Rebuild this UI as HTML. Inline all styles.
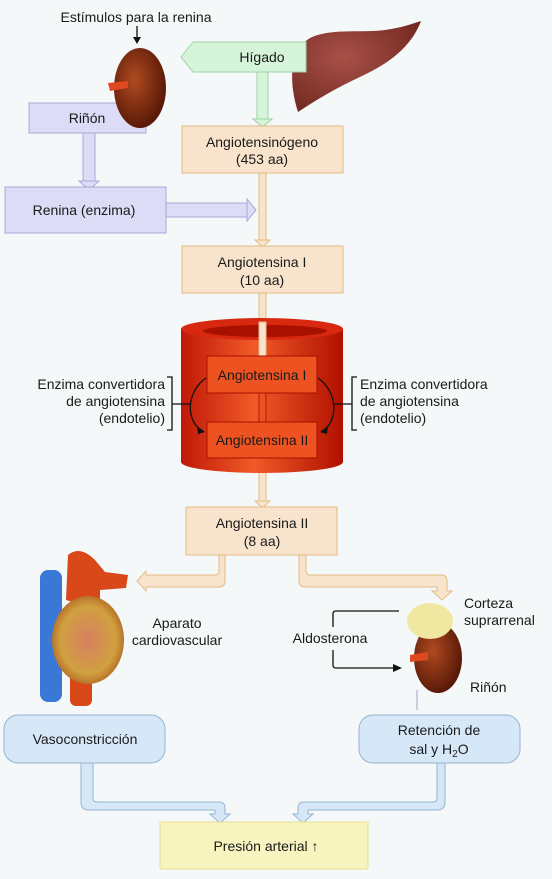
<!DOCTYPE html>
<html><head><meta charset="utf-8"><style>
html,body{margin:0;padding:0;background:#f4f8f8;}
svg{display:block;font-family:"Liberation Sans",sans-serif;}
text{fill:#1a1a1a;font-size:14px;}
</style></head><body>
<svg width="552" height="879" viewBox="0 0 552 879">
<defs>
<radialGradient id="kid" cx="40%" cy="40%" r="60%"><stop offset="0" stop-color="#b04a20"/><stop offset="1" stop-color="#5a1a08"/></radialGradient>
<radialGradient id="liv" cx="40%" cy="40%" r="70%"><stop offset="0" stop-color="#a85048"/><stop offset="1" stop-color="#702820"/></radialGradient>
<linearGradient id="cyl" x1="0" x2="1"><stop offset="0" stop-color="#c01808"/><stop offset="0.45" stop-color="#f05a28"/><stop offset="1" stop-color="#b01000"/></linearGradient>
<radialGradient id="heart" cx="50%" cy="50%" r="55%"><stop offset="0" stop-color="#d88060"/><stop offset="0.7" stop-color="#d0a040"/><stop offset="1" stop-color="#b06020"/></radialGradient>
</defs>

<text x="136" y="22" text-anchor="middle">Estímulos para la renina</text>
<g><line x1="137" y1="26" x2="137" y2="38" stroke="#111" stroke-width="1.3"/><polygon points="133,37 141,37 137,44" fill="#111"/></g>

<!-- lavender arrows -->
<g>
<rect x="83" y="132" width="12" height="50" fill="#dcdcf6" stroke="#a8a8d8"/>
<polygon points="79,181 99,181 89,190" fill="#dcdcf6" stroke="#a8a8d8"/>
</g>
<g>
<rect x="166" y="203" width="82" height="14" fill="#dcdcf6" stroke="#a8a8d8"/>
<polygon points="247,199 247,221 256,210" fill="#dcdcf6" stroke="#a8a8d8"/>
</g>
<rect x="29" y="103" width="117" height="30" fill="#dcdcf6" stroke="#a8a8d8"/>
<ellipse cx="140" cy="88" rx="26" ry="40" fill="url(#kid)"/>
<path d="M108,83 L128,81 L128,88 L110,91 Z" fill="#e04820"/>
<text x="87" y="123" text-anchor="middle">Riñón</text>
<rect x="5" y="187" width="161" height="46" fill="#dcdcf6" stroke="#a8a8d8"/>
<text x="84" y="215" text-anchor="middle">Renina (enzima)</text>

<!-- liver -->
<path d="M298,112 C288,80 290,50 310,38 C330,28 360,33 385,30 C400,28 412,24 421,21 C412,45 392,62 362,76 C336,88 316,100 298,112 Z" fill="url(#liv)"/>
<g>
<rect x="257" y="72" width="11" height="48" fill="#d6f4da" stroke="#9cd4a4"/>
<polygon points="253,119 272,119 262.5,127" fill="#d6f4da" stroke="#9cd4a4"/>
</g>
<polygon points="181,57 193,42 306,42 306,72 193,72" fill="#d6f4da" stroke="#9cd4a4"/>
<text x="262" y="62" text-anchor="middle">Hígado</text>

<g fill="#f8e4cc" stroke="#e4bc84">
<rect x="259" y="173" width="7" height="68"/><polygon points="255,240 270,240 262.5,247"/>
<rect x="259" y="293" width="7" height="62"/>
<rect x="259" y="458" width="7" height="44"/><polygon points="255,501 270,501 262.5,508"/>
</g>
<rect x="182" y="126" width="161" height="47" fill="#f8e4cc" stroke="#e4bc84"/>
<text x="262" y="147" text-anchor="middle">Angiotensinógeno</text>
<text x="262" y="164" text-anchor="middle">(453 aa)</text>
<rect x="182" y="246" width="161" height="47" fill="#f8e4cc" stroke="#e4bc84"/>
<text x="262" y="267" text-anchor="middle">Angiotensina I</text>
<text x="262" y="285" text-anchor="middle">(10 aa)</text>

<!-- cylinder -->
<g>
<path d="M181,329 L181,462 A81,11 0 0 0 343,462 L343,329 Z" fill="url(#cyl)"/>
<ellipse cx="262" cy="329" rx="81" ry="11" fill="#d82810"/>
<ellipse cx="265" cy="331" rx="62" ry="6" fill="#a81000"/>
<rect x="259" y="322" width="7" height="34" fill="#f8e4cc" stroke="#e4bc84"/>
<rect x="259" y="393" width="7" height="29" fill="none" stroke="#a81000" stroke-width="0.8"/>
</g>
<rect x="207" y="356" width="110" height="37" fill="#ee5220" stroke="#a81000"/>
<text x="262" y="380" text-anchor="middle">Angiotensina I</text>
<rect x="207" y="422" width="110" height="36" fill="#ee5220" stroke="#a81000"/>
<text x="262" y="445" text-anchor="middle">Angiotensina II</text>
<g fill="none" stroke="#111" stroke-width="1.3">
<path d="M206,378 C186,392 186,420 201,430"/><path d="M318,378 C338,392 338,420 324,430"/>
<path d="M167,377 L172,377 L172,430 L167,430 M172,404 L191,404"/>
<path d="M357,377 L352,377 L352,430 L357,430 M352,404 L333,404"/>
</g>
<polygon points="197,426 205,432 198,434" fill="#111"/><polygon points="328,426 320,432 327,434" fill="#111"/>
<g>
<text x="165" y="389" text-anchor="end">Enzima convertidora</text>
<text x="165" y="406" text-anchor="end">de angiotensina</text>
<text x="165" y="423" text-anchor="end">(endotelio)</text>
</g>
<g>
<text x="360" y="389">Enzima convertidora</text>
<text x="360" y="406">de angiotensina</text>
<text x="360" y="423">(endotelio)</text>
</g>

<!-- angiotensin II branches -->
<g fill="#f8e4cc" stroke="#e4bc84">
<path d="M219,555 L219,571 Q219,575 215,575 L146,575 L146,571 L137,581 L146,591 L146,587 L219,587 Q225,587 225,581 L225,555 Z"/>
<path d="M299,555 L299,581 Q299,587 305,587 L437,587 L437,591 L432,591 L442,600 L452,591 L447,591 L447,581 Q447,575 441,575 L310,575 Q306,575 306,571 L306,555 Z"/>
</g>
<rect x="186" y="507" width="151" height="48" fill="#f8e4cc" stroke="#e4bc84"/>
<text x="262" y="528" text-anchor="middle">Angiotensina II</text>
<text x="262" y="546" text-anchor="middle">(8 aa)</text>

<!-- heart -->
<g>
<rect x="40" y="570" width="22" height="132" rx="8" fill="#3a78d8"/>
<rect x="70" y="660" width="22" height="46" rx="6" fill="#d84818"/>
<path d="M66,600 L68,555 Q80,545 95,560 L105,572 L128,575 L126,588 L100,590 L100,610 Z" fill="#d84818"/>
<ellipse cx="88" cy="640" rx="36" ry="44" fill="url(#heart)"/>
</g>
<text x="177" y="628" text-anchor="middle">Aparato</text>
<text x="177" y="645" text-anchor="middle">cardiovascular</text>

<!-- adrenal/kidney -->
<g>
<line x1="417" y1="690" x2="417" y2="710" stroke="#c8d0e0" stroke-width="2"/>
<ellipse cx="438" cy="658" rx="24" ry="35" fill="url(#kid)"/>
<ellipse cx="430" cy="621" rx="23" ry="18" fill="#f0e8a0"/>
<path d="M410,655 L428,652 L428,660 L410,662 Z" fill="#e04820"/>
</g>
<g fill="none" stroke="#111" stroke-width="1.3">
<path d="M399,611 L336,611 Q333,611 333,614 L333,627"/>
<path d="M333,650 L333,665 Q333,668 336,668 L394,668"/>
</g>
<polygon points="393,664 402,668 393,672" fill="#111"/>
<text x="330" y="643" text-anchor="middle">Aldosterona</text>
<text x="464" y="608">Corteza</text>
<text x="464" y="625">suprarrenal</text>
<text x="470" y="692">Riñón</text>

<!-- blue arrows -->
<g fill="#d6e8f8" stroke="#94b4d4">
<path d="M81,763 L81,802 Q81,810 89,810 L215,810 L215,814 L210,814 L220,823 L230,814 L225,814 L225,808 Q225,802 219,802 L97,802 Q93,802 93,798 L93,763 Z"/>
<path d="M437,763 L437,798 Q437,802 433,802 L304,802 Q298,802 298,808 L298,814 L293,814 L303,823 L313,814 L308,814 L308,810 L437,810 Q445,810 445,802 L445,763 Z"/>
</g>
<rect x="4" y="715" width="161" height="48" rx="14" fill="#d6e8f8" stroke="#94b4d4"/>
<text x="85" y="744" text-anchor="middle">Vasoconstricción</text>
<rect x="359" y="715" width="161" height="48" rx="14" fill="#d6e8f8" stroke="#94b4d4"/>
<text x="439" y="735" text-anchor="middle">Retención de</text>
<text x="439" y="754" text-anchor="middle">sal y H<tspan font-size="10" dy="3">2</tspan><tspan dy="-3">O</tspan></text>

<rect x="160" y="822" width="208" height="47" fill="#f8f4c0" stroke="#e8e094"/>
<text x="266" y="851" text-anchor="middle">Presión arterial ↑</text>
</svg>
</body></html>
